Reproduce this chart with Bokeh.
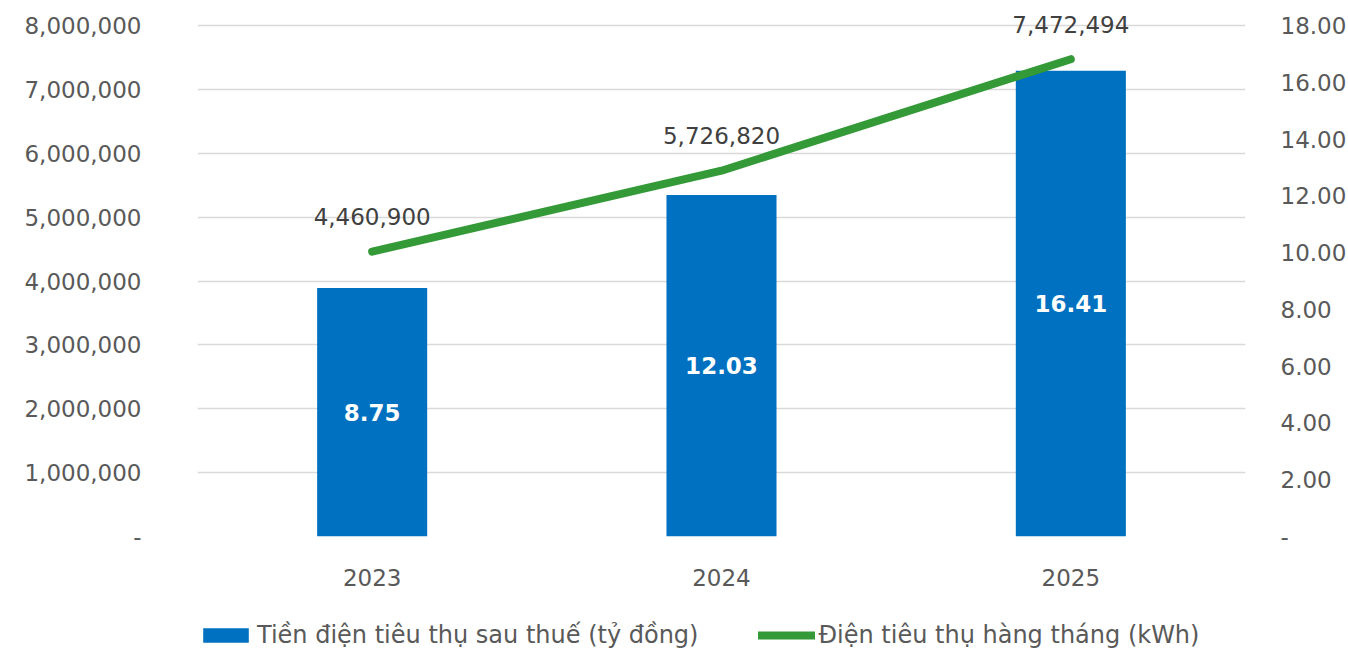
from bokeh.plotting import figure
from bokeh.layouts import column
from bokeh.models import (Range1d, FactorRange, LinearAxis, FixedTicker, NumeralTickFormatter,
                          ColumnDataSource, Legend, LegendItem)
from bokeh.core.properties import value
from bokeh.embed import file_html
from bokeh.resources import INLINE

years = ["2023", "2024", "2025"]
cost_bn = [8.75, 12.03, 16.41]          # Tiền điện tiêu thụ sau thuế (tỷ đồng) - right axis
kwh = [4460900, 5726820, 7472494]       # Điện tiêu thụ hàng tháng (kWh) - left axis
left_ticks = [0, 1000000, 2000000, 3000000, 4000000, 5000000, 6000000, 7000000, 8000000]
right_ticks = [0, 2, 4, 6, 8, 10, 12, 14, 16, 18]
series_names = ["Tiền điện tiêu thụ sau thuế (tỷ đồng)", "Điện tiêu thụ hàng tháng (kWh)"]

FONT = "DejaVu Sans"
GRAY = "#595959"
BLUE = "#0070C0"
GREEN = "#339A37"
FS = "23px"

# frame: gridded area is 511px tall; extra headroom of 17px above the top gridline
GRID_H = 511
HEAD = 17
FRAME_H = GRID_H + HEAD
left_top = left_ticks[-1] * FRAME_H / GRID_H
right_top = right_ticks[-1] * FRAME_H / GRID_H

src = ColumnDataSource(dict(
    x=years, cost=cost_bn, cost_mid=[c / 2 for c in cost_bn],
    cost_lbl=["%.2f" % c for c in cost_bn],
    kwh=kwh, kwh_lbl=["{:,}".format(k) for k in kwh],
))

p = figure(x_range=FactorRange(*years), y_range=Range1d(0, left_top),
           frame_width=1048, frame_height=FRAME_H,
           min_border_left=197, min_border_right=103, min_border_top=8, min_border_bottom=72,
           output_backend="svg", toolbar_location=None)
p.outline_line_color = None
p.background_fill_color = "white"
p.border_fill_color = "white"

p.extra_y_ranges = {"right": Range1d(0, right_top)}

# left axis
ya = p.yaxis[0]
ya.ticker = FixedTicker(ticks=left_ticks)
ya.formatter = NumeralTickFormatter(format="0,0")
ya.major_label_overrides = {0: "-"}
ya.axis_line_color = None
ya.major_tick_line_color = None
ya.minor_tick_line_color = None
ya.major_label_standoff = 50
ya.major_label_text_font = FONT
ya.major_label_text_font_size = FS
ya.major_label_text_color = GRAY

# right axis
ra = LinearAxis(y_range_name="right", ticker=FixedTicker(ticks=right_ticks),
                formatter=NumeralTickFormatter(format="0.00"))
ra.major_label_overrides = {0: "-"}
ra.axis_line_color = None
ra.major_tick_line_color = None
ra.minor_tick_line_color = None
ra.major_label_standoff = 29
ra.major_label_text_font = FONT
ra.major_label_text_font_size = FS
ra.major_label_text_color = GRAY
p.add_layout(ra, "right")

# x axis
xa = p.xaxis[0]
xa.axis_line_color = None
xa.major_tick_line_color = None
xa.minor_tick_line_color = None
xa.major_label_standoff = 26
xa.major_label_text_font = FONT
xa.major_label_text_font_size = FS
xa.major_label_text_color = GRAY

p.xgrid.grid_line_color = None
p.ygrid.ticker = FixedTicker(ticks=left_ticks)
p.ygrid.grid_line_color = "#D9D9D9"
p.ygrid.grid_line_width = 1.5

bar_style = dict(fill_color=BLUE, line_color=None)
line_style = dict(line_color=GREEN, line_width=8, line_cap="round", line_join="round")

p.vbar(x="x", top="cost", width=0.315, source=src, y_range_name="right", **bar_style)
p.line(x="x", y="kwh", source=src, **line_style)

p.text(x="x", y="cost_mid", text="cost_lbl", source=src, y_range_name="right",
       text_align="center", text_baseline="middle", text_color="white",
       text_font=value(FONT), text_font_size=FS, text_font_style="bold")
p.text(x="x", y="kwh", text="kwh_lbl", source=src, y_offset=-35,
       text_align="center", text_baseline="middle", text_color="#404040",
       text_font=value(FONT), text_font_size=FS)

# legend strip below the chart (series drawn out of its view, only their legend keys show)
lf = figure(x_range=FactorRange(*years), y_range=Range1d(100, 101),
            width=1348, height=44, min_border=0,
            x_axis_location=None, y_axis_location=None,
            output_backend="svg", toolbar_location=None)
lf.outline_line_color = None
lf.grid.grid_line_color = None
lf.border_fill_color = "white"
lb = lf.vbar(x="x", top="cost", width=0.315, source=src, **bar_style)
ll = lf.line(x="x", y="cost", source=src, **line_style)

legend = Legend(items=[
    LegendItem(label=series_names[0], renderers=[lb]),
    LegendItem(label=series_names[1], renderers=[ll]),
], orientation="horizontal", location=(0, 3))
legend.border_line_color = None
legend.background_fill_alpha = 0
legend.padding = 0
legend.margin = 0
legend.spacing = 60
legend.label_standoff = 3
legend.glyph_width = 57
legend.glyph_height = 18
legend.label_text_font = FONT
legend.label_text_font_size = "24px"
legend.label_text_color = GRAY
lf.add_layout(legend, "center")

open("out.html", "w").write(file_html(column(p, lf, spacing=0), INLINE))
